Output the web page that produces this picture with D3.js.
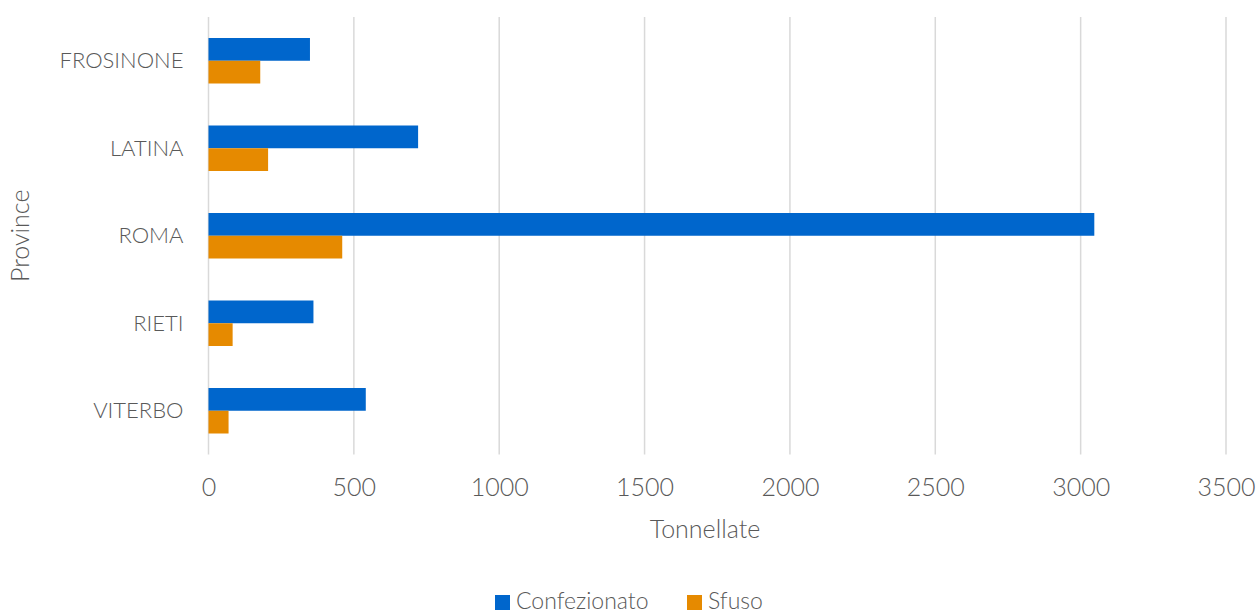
<!DOCTYPE html>
<html>
<head>
<meta charset="utf-8">
<script src="https://cdn.jsdelivr.net/npm/d3@7/dist/d3.min.js"></script>
<style>
  html, body { margin: 0; padding: 0; background: #fff; }
  svg text { font-family: Lato, "Open Sans", sans-serif; font-weight: 300; fill: #595959; }
</style>
</head>
<body>
<svg id="chart" width="1258" height="613"></svg>
<script>
// Quantities per province (tonnes)
const provinces = ["FROSINONE", "LATINA", "ROMA", "RIETI", "VITERBO"];
const seriesNames = ["Confezionato", "Sfuso"];
const confezionato = [349, 721, 3047, 361, 541];
const sfuso = [178, 205, 460, 83, 69];
const xTicks = [0, 500, 1000, 1500, 2000, 2500, 3000, 3500];
const colors = ["#0066CC", "#E68A00"];

const svg = d3.select("#chart");
const margin = { left: 208.5, right: 32, top: 17, bottom: 158.5 };
const W = 1258, H = 613;
const plotW = W - margin.left - margin.right;
const plotH = H - margin.top - margin.bottom;

const x = d3.scaleLinear().domain([0, 3500]).range([0, plotW]);
const y = d3.scaleBand().domain(provinces).range([0, plotH]).paddingInner(0.48).paddingOuter(0.24);
const ySub = d3.scaleBand().domain(seriesNames).range([0, y.bandwidth()]);

const g = svg.append("g").attr("transform", `translate(${margin.left},${margin.top})`);

// vertical gridlines
g.append("g")
  .selectAll("line")
  .data(xTicks)
  .join("line")
  .attr("x1", d => x(d)).attr("x2", d => x(d))
  .attr("y1", 0).attr("y2", plotH)
  .attr("stroke", "#d9d9d9").attr("stroke-width", 1.5);

// x axis tick labels
const xAxis = d3.axisBottom(x).tickValues(xTicks).tickFormat(d3.format("d")).tickSize(0).tickPadding(0);
const xa = g.append("g").attr("transform", `translate(0,${plotH})`).call(xAxis);
xa.select(".domain").remove();
xa.selectAll("text")
  .attr("y", 41)
  .attr("dy", 0)
  .style("font-size", "25px")
  .style("font-family", "Lato, sans-serif")
  .style("fill", "#595959");

// y axis category labels
const yAxis = d3.axisLeft(y).tickSize(0).tickPadding(0);
const ya = g.append("g").call(yAxis);
ya.select(".domain").remove();
ya.selectAll("text")
  .attr("x", -25)
  .attr("dy", "0.35em")
  .style("font-size", "22px")
  .style("font-family", "Lato, sans-serif")
  .style("fill", "#595959");

// bars
const rows = provinces.map((p, i) => ({ p, vals: [confezionato[i], sfuso[i]] }));
const groups = g.append("g").selectAll("g")
  .data(rows)
  .join("g")
  .attr("transform", d => `translate(0,${y(d.p)})`);
groups.selectAll("rect")
  .data(d => d.vals.map((v, k) => ({ name: seriesNames[k], v, k })))
  .join("rect")
  .attr("x", x(0))
  .attr("y", d => ySub(d.name))
  .attr("width", d => x(d.v) - x(0))
  .attr("height", ySub.bandwidth())
  .attr("fill", d => colors[d.k]);

// axis titles
svg.append("text")
  .attr("x", 705)
  .attr("y", 538)
  .attr("text-anchor", "middle")
  .style("font-size", "25px")
  .text("Tonnellate");

svg.append("text")
  .attr("transform", `translate(29,${margin.top + plotH / 2}) rotate(-90)`)
  .attr("text-anchor", "middle")
  .style("font-size", "25px")
  .text("Province");

// legend
const legend = svg.append("g").attr("transform", "translate(495,594)");
const legendItems = [
  { name: seriesNames[0], color: colors[0], x: 0 },
  { name: seriesNames[1], color: colors[1], x: 192 }
];
const li = legend.selectAll("g").data(legendItems).join("g")
  .attr("transform", d => `translate(${d.x},0)`);
li.append("rect").attr("y", 1).attr("width", 15).attr("height", 15).attr("fill", d => d.color);
li.append("text").attr("x", 21).attr("y", 15).style("font-size", "23px").text(d => d.name);
</script>
</body>
</html>
